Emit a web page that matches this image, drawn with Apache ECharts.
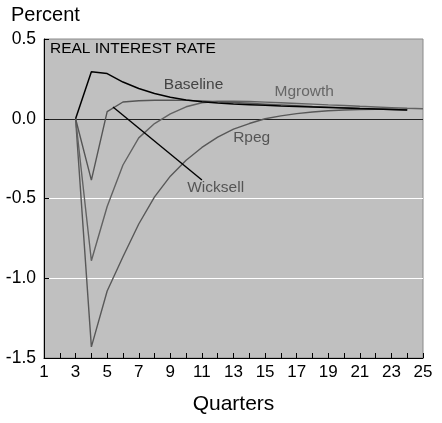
<!DOCTYPE html>
<html>
<head>
<meta charset="utf-8">
<script src="https://cdn.jsdelivr.net/npm/echarts@6/dist/echarts.min.js"></script>
<style>
html,body{margin:0;padding:0;background:#fff;}
#chart{width:442px;height:423px;}
</style>
</head>
<body>
<div id="chart"></div>
<script>
// Quarters 3..25
var quartersBaseline = [3,4,5,6,7,8,9,10,11,12,13,14,15,16,17,18,19,20,21,22,23,24];
var baseline = [0,0.294,0.283,0.23,0.19,0.158,0.135,0.118,0.106,0.098,0.092,0.088,0.084,0.08,0.077,0.074,0.071,0.068,0.064,0.061,0.058,0.055];
var wicksell = [0,-0.385,0.045,0.105,0.113,0.116,0.117,0.115,0.112,0.107,0.102,0.097,0.092,0.087,0.082,0.077,0.073,0.069,0.065,0.061,0.058,0.055];
var quartersLong = [3,4,5,6,7,8,9,10,11,12,13,14,15,16,17,18,19,20,21,22,23,24,25];
var mgrowth = [0,-0.89,-0.55,-0.29,-0.12,-0.03,0.03,0.075,0.1,0.11,0.11,0.108,0.104,0.1,0.096,0.092,0.087,0.083,0.078,0.074,0.07,0.066,0.063];
var quartersRpeg = [3,4,5,6,7,8,9,10,11,12,13,14,15,16,17,18,19,20,21,22,23,24];
var rpeg = [0,-1.43,-1.08,-0.865,-0.66,-0.49,-0.36,-0.26,-0.18,-0.115,-0.065,-0.03,0,0.018,0.032,0.042,0.05,0.055,0.058,0.06,0.06,0.06];

// Annotation anchors (data coordinates)
var labelBaseline = [10.47, 0.212];
var labelMgrowth = [17.48, 0.168];
var labelRpeg = [14.15, -0.121];
var labelWicksell = [11.87, -0.434];
var wicksellLeader = [[5.37, 0.074], [11.0, -0.384]];

var FONT = 'Liberation Sans, Arial, sans-serif';
function pairs(xs, ys){ return xs.map(function(x,i){ return [x, ys[i]]; }); }
function textPoint(coord, text, color){
  return {coord: coord, value: text, symbolSize: 0,
    label: {show: true, position: 'inside', formatter: text, color: color, fontSize: 15.5, fontFamily: FONT}};
}

var chart = echarts.init(document.getElementById('chart'), null, {renderer: 'canvas'});
chart.setOption({
  animation: false,
  backgroundColor: '#fff',
  title: [
    {text: 'Percent', left: 11, top: 5, padding: 0, textStyle: {fontSize: 20, fontWeight: 'normal', color: '#000', fontFamily: FONT}},
    {text: 'REAL INTEREST RATE', left: 50, top: 41, padding: 0, textStyle: {fontSize: 15.5, fontWeight: 'normal', color: '#000', fontFamily: FONT}}
  ],
  grid: {left: 44, top: 39, right: 19, bottom: 65, show: true, backgroundColor: '#c0c0c0', borderColor: '#8a8a8a', borderWidth: 1},
  xAxis: {
    type: 'value', min: 1, max: 25, interval: 2,
    name: 'Quarters', nameLocation: 'middle', nameGap: 36,
    nameTextStyle: {fontSize: 21, color: '#000', fontFamily: FONT},
    axisLine: {show: true, onZero: false, lineStyle: {color: '#000', width: 1}},
    axisTick: {show: true, inside: true, length: 5, lineStyle: {color: '#000'}},
    minorTick: {show: true, splitNumber: 2, length: 5, lineStyle: {color: '#000'}},
    axisLabel: {fontSize: 17, color: '#000', margin: 6, fontFamily: FONT},
    splitLine: {show: false}
  },
  yAxis: {
    type: 'value', min: -1.5, max: 0.5, interval: 0.5,
    axisLine: {show: true, lineStyle: {color: '#000', width: 1}},
    axisTick: {show: true, inside: true, length: 5, lineStyle: {color: '#000'}},
    axisLabel: {fontSize: 17.5, color: '#000', margin: 8, fontFamily: FONT,
      formatter: function(v){ return v.toFixed(1); }},
    splitLine: {show: true, lineStyle: {color: ['rgba(0,0,0,0)', '#ffffff', '#ffffff', '#222222', 'rgba(0,0,0,0)'], width: 1}}
  },
  series: [
    {name: 'Rpeg', type: 'line', data: pairs(quartersRpeg, rpeg), showSymbol: false, symbol: 'none',
      lineStyle: {color: '#585858', width: 1.4}, z: 3},
    {name: 'Mgrowth', type: 'line', data: pairs(quartersLong, mgrowth), showSymbol: false, symbol: 'none',
      lineStyle: {color: '#626262', width: 1.4}, z: 3},
    {name: 'Wicksell', type: 'line', data: pairs(quartersBaseline, wicksell), showSymbol: false, symbol: 'none',
      lineStyle: {color: '#555555', width: 1.4}, z: 4,
      markLine: {silent: true, symbol: ['none','none'], label: {show: false},
        lineStyle: {color: '#000', width: 1.4, type: 'solid'},
        data: [[{coord: wicksellLeader[0]}, {coord: wicksellLeader[1]}]]}},
    {name: 'Baseline', type: 'line', data: pairs(quartersBaseline, baseline), showSymbol: false, symbol: 'none',
      lineStyle: {color: '#000', width: 1.5}, z: 5,
      markPoint: {silent: true, data: [
        textPoint(labelBaseline, 'Baseline', '#444'),
        textPoint(labelMgrowth, 'Mgrowth', '#666'),
        textPoint(labelRpeg, 'Rpeg', '#555'),
        textPoint(labelWicksell, 'Wicksell', '#555')
      ]}}
  ]
});
</script>
</body>
</html>
